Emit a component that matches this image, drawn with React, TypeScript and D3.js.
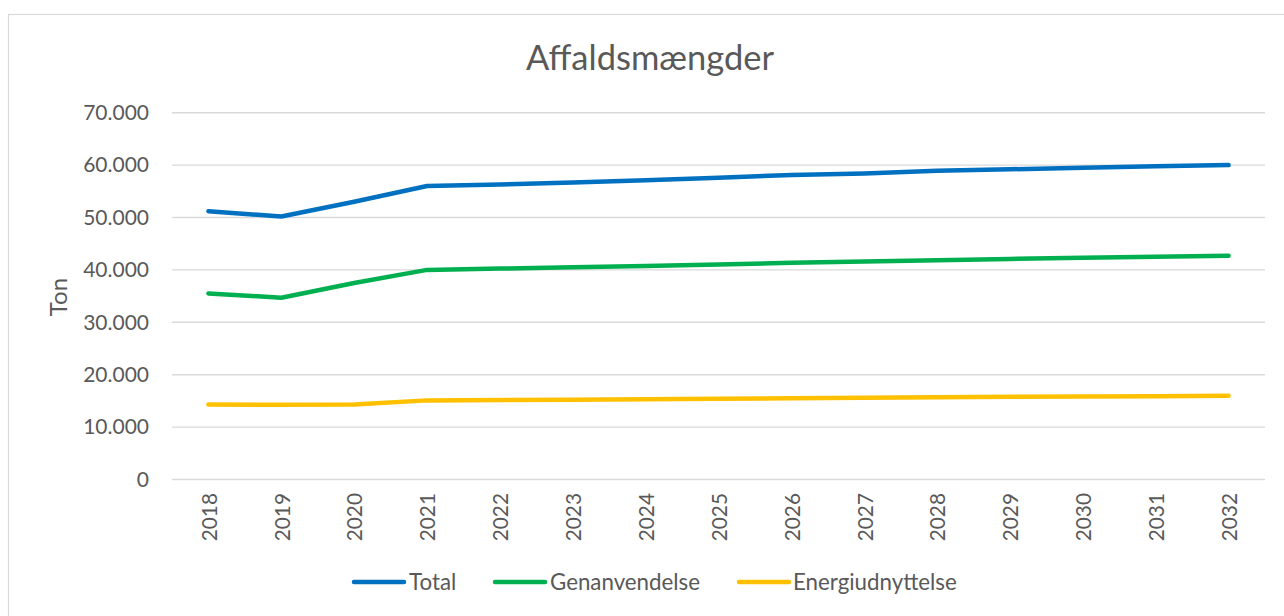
import React from "react";
import * as d3 from "d3";

const years = ["2018","2019","2020","2021","2022","2023","2024","2025","2026","2027","2028","2029","2030","2031","2032"];
const total = [51200, 50200, 53000, 56000, 56300, 56700, 57100, 57600, 58100, 58400, 58900, 59200, 59500, 59800, 60000];
const genanvendelse = [35500, 34700, 37500, 40000, 40250, 40500, 40750, 41050, 41350, 41600, 41850, 42100, 42300, 42500, 42700];
const energi = [14300, 14250, 14300, 15100, 15150, 15200, 15300, 15400, 15500, 15600, 15700, 15800, 15850, 15900, 16000];
const yTicks = [0, 10000, 20000, 30000, 40000, 50000, 60000, 70000];
const seriesNames = ["Total", "Genanvendelse", "Energiudnyttelse"];
const seriesColors = ["#0070C0", "#00B050", "#FFC000"];

const W = 1284, H = 616;
const FONT = "Lato, 'Open Sans', sans-serif";
const TXT = "#595959";

export default function App() {
  const x = d3.scaleBand<string>().domain(years).range([172, 1265]).padding(0);
  const y = d3.scaleLinear().domain([0, 70000]).range([479.5, 112.7]);
  const locale = d3.formatLocale({ decimal: ",", thousands: ".", grouping: [3], currency: ["", " kr"] });
  const fmt = locale.format(",d");
  const cx = (yr: string) => (x(yr) as number) + x.bandwidth() / 2;
  const line = d3.line<number>().x((_, i) => cx(years[i])).y((v) => y(v));
  const series = [total, genanvendelse, energi];

  const legendItems = [
    { lx: 352, tx: 409 },
    { lx: 493, tx: 550 },
    { lx: 737, tx: 793 },
  ];

  return (
    <svg width={W} height={H} style={{ position: "absolute", left: 0, top: 0, display: "block", background: "#fff" }} fontFamily={FONT}>
      <rect x={8.5} y={14.5} width={1400} height={700} fill="#fff" stroke="#D9D9D9" strokeWidth={1.2} />
      <text x={650} y={70} textAnchor="middle" fontSize={34.5} fill={TXT}>Affaldsmængder</text>
      {yTicks.map((t) => (
        <g key={t}>
          <line x1={172} x2={1265} y1={y(t)} y2={y(t)} stroke="#D9D9D9" strokeWidth={1.4} />
          <text x={149} y={y(t)} dy="0.35em" textAnchor="end" fontSize={21} fill={TXT}>{fmt(t)}</text>
        </g>
      ))}
      <text transform="translate(59,297) rotate(-90)" textAnchor="middle" dy="0.35em" fontSize={24} fill={TXT}>Ton</text>
      {years.map((yr) => (
        <text key={yr} transform={`translate(${cx(yr) + 1},493) rotate(-90)`} textAnchor="end" dy="0.35em" fontSize={20.8} fill={TXT}>{yr}</text>
      ))}
      {series.map((s, i) => (
        <path key={i} d={line(s) || ""} fill="none" stroke={seriesColors[i]} strokeWidth={4.5} strokeLinecap="round" strokeLinejoin="round" />
      ))}
      {legendItems.map((it, i) => (
        <g key={i}>
          <line x1={it.lx + 2} x2={it.lx + 52} y1={582} y2={582} stroke={seriesColors[i]} strokeWidth={4.5} strokeLinecap="round" />
          <text x={it.tx} y={582} dy="0.35em" fontSize={22.3} fill={TXT}>{seriesNames[i]}</text>
        </g>
      ))}
    </svg>
  );
}
